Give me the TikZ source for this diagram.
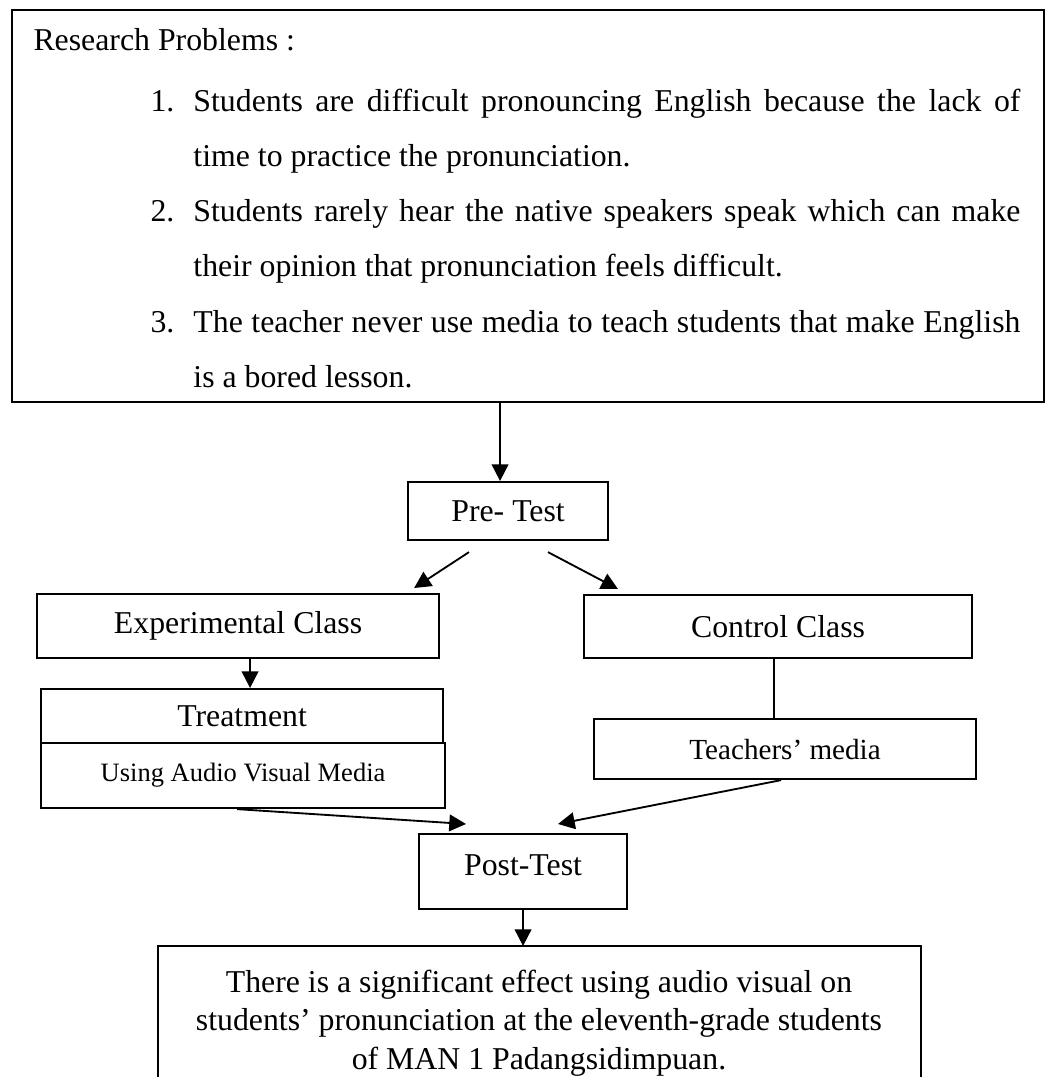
\documentclass[tikz,border=0pt]{standalone}
\usepackage{fontspec}
\setmainfont{Liberation Serif}
\usetikzlibrary{arrows.meta,calc}
\newcommand\PX{0.3774pt}
\begin{document}
\begin{tikzpicture}[x=0.3774pt, y=-0.3774pt,
  box/.style={draw, line width=0.8pt, inner sep=0pt, anchor=north west},
  arr/.style={line width=0.7pt, -{Triangle[length=6.3pt,width=6.3pt]}},
  ln/.style={line width=0.7pt},
  txt/.style={font=\fontsize{12pt}{14pt}\selectfont},
  small/.style={font=\fontsize{10pt}{12pt}\selectfont},
  mid/.style={font=\fontsize{11pt}{13pt}\selectfont}]
\useasboundingbox (0,0) rectangle (1046,1077);

% top box
\node[box, minimum width=1032*\PX, minimum height=392*\PX] (prob) at (11,9) {};
\node[txt, anchor=base west, inner sep=0pt] (rp) at (33,50) {Research Problems :};
\node[txt, anchor=base west, inner sep=0pt] (it1) at (150,111) {\makebox[16.2pt][l]{1.}\parbox[t]{312.1pt}{\baselineskip=20.83pt Students are difficult pronouncing English because the lack of\linebreak time to practice the pronunciation.}};
\node[txt, anchor=base west, inner sep=0pt] (it2) at (150,221) {\makebox[16.2pt][l]{2.}\parbox[t]{312.1pt}{\baselineskip=20.83pt Students rarely hear the native speakers speak which can make\linebreak their opinion that pronunciation feels difficult.}};
\node[txt, anchor=base west, inner sep=0pt] (it3) at (150,332) {\makebox[16.2pt][l]{3.}\parbox[t]{312.1pt}{\baselineskip=20.83pt The teacher never use media to teach students that make English\linebreak is a bored lesson.}};

% middle boxes
\node[box, txt, minimum width=200*\PX, minimum height=58*\PX] (pre) at (407,481) {Pre- Test};
\node[box, txt, minimum width=402*\PX, minimum height=64*\PX] (exp) at (36,593) {Experimental Class};
\node[box, txt, minimum width=388*\PX, minimum height=63*\PX] (ctrl) at (583,594) {Control Class};
\node[box, txt, minimum width=402*\PX, minimum height=54*\PX] (treat) at (40,688) {Treatment};
\node[box, small, minimum width=404*\PX, minimum height=65*\PX] (using) at (40,742) {Using Audio Visual Media};
\node[box, mid, minimum width=382*\PX, minimum height=60*\PX] (tm) at (593,718) {Teachers’ media};
\node[box, txt, minimum width=208*\PX, minimum height=75*\PX, text depth=5pt] (post) at (418,833) {Post-Test};

% conclusion box (cut at bottom)
\node[draw=none, inner sep=0pt, anchor=north west, minimum width=762*\PX, minimum height=131*\PX] (concl) at (158,946) {};
\draw[line width=0.8pt] (concl.south west) -- (concl.north west) -- (concl.north east) -- (concl.south east);
\node[txt, anchor=base, inner sep=0pt] (ctext) at (539,992) {\parbox[t]{280pt}{\centering\baselineskip=14.7pt There is a significant effect using audio visual on\\ students’ pronunciation at the eleventh-grade students\\ of MAN 1 Padangsidimpuan.}};

% connectors
\coordinate (t1) at ($(pre.north)+(-8,0)$);
\draw[arr] (t1 |- prob.south) -- (t1);
\draw[arr] ($(pre.south west)+(62,11)$) -- ($(exp.north east)+(-26,-5)$);
\draw[arr] ($(pre.south west)+(141,11)$) -- ($(ctrl.north west)+(35,-5)$);
\coordinate (e1) at ($(exp.south)+(12,0)$);
\draw[arr] (e1) -- (e1 |- treat.north);
\coordinate (c1) at ($(ctrl.south)+(-4,0)$);
\draw[ln] (c1) -- (c1 |- tm.north);
\draw[arr] ($(using.south)+(-6,0)$) -- ($(post.north west)+(48,-9)$);
\draw[arr] ($(tm.south)+(-4,0)$) -- ($(post.north west)+(140,-9)$);
\draw[arr] (post.south) -- (post.south |- concl.north);
\end{tikzpicture}
\end{document}
